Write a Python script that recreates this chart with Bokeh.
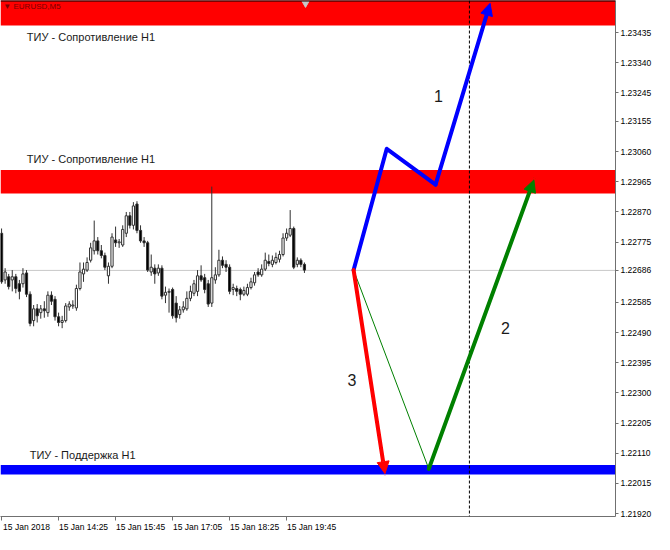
from bokeh.plotting import figure
from bokeh.models import (Range1d, FixedTicker, PrintfTickFormatter,
                          Span, Arrow, NormalHead, BoxAnnotation)
from bokeh.core.properties import value
from bokeh.embed import file_html
from bokeh.resources import INLINE

# ---------------- data ----------------
opens = [1.22803, 1.22656, 1.22666, 1.22656, 1.22666, 1.22644, 1.22644, 1.22678, 1.22611, 1.22528,
         1.22565, 1.22553, 1.22565, 1.22553, 1.22608, 1.22595, 1.22540, 1.22522, 1.22528, 1.22571,
         1.22574, 1.22568, 1.22629, 1.22675, 1.22687, 1.22718, 1.22748, 1.22779, 1.22748, 1.22733,
         1.22669, 1.22699, 1.22782, 1.22773, 1.22766, 1.22803, 1.22858, 1.22828, 1.22895, 1.22812,
         1.22779, 1.22773, 1.22681, 1.22693, 1.22678, 1.22693, 1.22608, 1.22617, 1.22626, 1.22583,
         1.22547, 1.22562, 1.22565, 1.22598, 1.22614, 1.22620, 1.22669, 1.22663, 1.22644, 1.22583,
         1.22656, 1.22672, 1.22718, 1.22705, 1.22696, 1.22626, 1.22629, 1.22626, 1.22611, 1.22611,
         1.22632, 1.22647, 1.22681, 1.22672, 1.22690, 1.22714, 1.22705, 1.22711, 1.22721, 1.22736,
         1.22788, 1.22797, 1.22818, 1.22705, 1.22718, 1.22705]
highs = [1.22818, 1.22693, 1.22675, 1.22687, 1.22675, 1.22656, 1.22693, 1.22687, 1.22620, 1.22577,
         1.22580, 1.22577, 1.22589, 1.22620, 1.22620, 1.22605, 1.22553, 1.22543, 1.22583, 1.22589,
         1.22592, 1.22641, 1.22711, 1.22711, 1.22727, 1.22773, 1.22843, 1.22791, 1.22766, 1.22742,
         1.22711, 1.22803, 1.22824, 1.22785, 1.22828, 1.22870, 1.22870, 1.22901, 1.22904, 1.22828,
         1.22791, 1.22779, 1.22736, 1.22705, 1.22705, 1.22702, 1.22635, 1.22629, 1.22632, 1.22605,
         1.22574, 1.22589, 1.22620, 1.22638, 1.22656, 1.22687, 1.22702, 1.22675, 1.22656, 1.22950,
         1.22696, 1.22751, 1.22730, 1.22718, 1.22705, 1.22644, 1.22638, 1.22632, 1.22635, 1.22644,
         1.22663, 1.22681, 1.22693, 1.22705, 1.22742, 1.22736, 1.22733, 1.22742, 1.22748, 1.22803,
         1.22818, 1.22876, 1.22824, 1.22727, 1.22724, 1.22711]
lows = [1.22644, 1.22644, 1.22626, 1.22620, 1.22614, 1.22595, 1.22632, 1.22602, 1.22510, 1.22510,
        1.22522, 1.22534, 1.22537, 1.22540, 1.22577, 1.22528, 1.22510, 1.22504, 1.22522, 1.22559,
        1.22565, 1.22559, 1.22623, 1.22650, 1.22681, 1.22711, 1.22736, 1.22736, 1.22724, 1.22687,
        1.22644, 1.22693, 1.22760, 1.22757, 1.22760, 1.22791, 1.22818, 1.22815, 1.22803, 1.22773,
        1.22760, 1.22681, 1.22669, 1.22644, 1.22669, 1.22595, 1.22583, 1.22553, 1.22534, 1.22522,
        1.22534, 1.22553, 1.22559, 1.22589, 1.22605, 1.22605, 1.22650, 1.22614, 1.22571, 1.22571,
        1.22644, 1.22666, 1.22693, 1.22681, 1.22611, 1.22608, 1.22605, 1.22592, 1.22605, 1.22605,
        1.22626, 1.22638, 1.22666, 1.22666, 1.22684, 1.22699, 1.22696, 1.22705, 1.22711, 1.22730,
        1.22779, 1.22791, 1.22690, 1.22696, 1.22696, 1.22678]
closes = [1.22650, 1.22681, 1.22635, 1.22666, 1.22629, 1.22620, 1.22675, 1.22611, 1.22519, 1.22565,
          1.22543, 1.22565, 1.22559, 1.22608, 1.22589, 1.22540, 1.22522, 1.22528, 1.22574, 1.22580,
          1.22577, 1.22629, 1.22681, 1.22690, 1.22711, 1.22757, 1.22779, 1.22748, 1.22733, 1.22696,
          1.22699, 1.22791, 1.22773, 1.22776, 1.22815, 1.22858, 1.22828, 1.22889, 1.22812, 1.22779,
          1.22773, 1.22687, 1.22696, 1.22675, 1.22693, 1.22605, 1.22617, 1.22620, 1.22543, 1.22537,
          1.22562, 1.22571, 1.22598, 1.22620, 1.22644, 1.22669, 1.22656, 1.22626, 1.22580, 1.22663,
          1.22672, 1.22718, 1.22702, 1.22696, 1.22620, 1.22632, 1.22620, 1.22611, 1.22623, 1.22632,
          1.22650, 1.22672, 1.22672, 1.22690, 1.22718, 1.22708, 1.22718, 1.22727, 1.22736, 1.22788,
          1.22803, 1.22818, 1.22696, 1.22718, 1.22705, 1.22687]
bar_index = list(range(len(closes)))

time_tick_index = [0, 16, 32, 48, 64, 80]
time_tick_labels = ["15 Jan 2018", "15 Jan 14:25", "15 Jan 15:45",
                    "15 Jan 17:05", "15 Jan 18:25", "15 Jan 19:45"]

price_ticks = [1.23435, 1.23340, 1.23245, 1.23155, 1.23060, 1.22965, 1.22870, 1.22775,
               1.22585, 1.22490, 1.22395, 1.22300, 1.22205, 1.22110, 1.22015, 1.21920]
current_price = 1.22686

resistance_upper = [1.23457, 1.23560]
resistance_lower = [1.22928, 1.23002]
support_level = [1.22043, 1.22073]
vertical_marker_index = 131.3

level_labels = ["ТИУ - Сопротивление H1", "ТИУ - Сопротивление H1", "ТИУ - Поддержка H1"]
level_label_x = [7.1, 7.1, 7.9]
level_label_y = [1.23420, 1.23038, 1.22104]

scenario1_x = [98.8, 108.1, 121.8, 137.1]
scenario1_y = [1.22687, 1.23069, 1.22956, 1.23527]
scenario2_x = [98.8, 119.9, 149.4]
scenario2_y = [1.22687, 1.22061, 1.22971]
scenario3_x = [98.8, 107.6]
scenario3_y = [1.22687, 1.22046]

scenario_names = ["1", "2", "3"]
scenario_name_x = [122.6, 141.4, 98.3]
scenario_name_y = [1.23234, 1.22504, 1.22342]

symbol_title = "\u25bc EURUSD,M5"

# ---------------- figure ----------------
FONT = "Liberation Sans"
W, H = 654, 534
p = figure(width=W, height=H, output_backend="svg", toolbar_location=None,
           x_range=Range1d(-0.3, 172.3), y_range=Range1d(1.21911, 1.23536),
           y_axis_location="right", min_border_left=0, min_border_top=0,
           min_border_right=0, min_border_bottom=0)
p.grid.visible = False
p.outline_line_color = None
p.background_fill_color = "white"
p.border_fill_color = "white"

# bands
for lo, hi, col in [(resistance_upper[0], resistance_upper[1], "#ff0000"),
                    (resistance_lower[0], resistance_lower[1], "#ff0000"),
                    (support_level[0], support_level[1], "#0000ff")]:
    p.add_layout(BoxAnnotation(bottom=lo, top=hi, fill_color=col, fill_alpha=1,
                               line_color=None, level="underlay"))

# current price line
p.add_layout(Span(location=current_price, dimension="width", line_color="#c8c8c8",
                  line_width=1, level="underlay"))

# candles
body_top = [max(o, c) for o, c in zip(opens, closes)]
body_bot = [min(o, c) for o, c in zip(opens, closes)]
body_fill = ["white" if c >= o else "black" for o, c in zip(opens, closes)]
p.segment(x0=bar_index, y0=lows, x1=bar_index, y1=highs, line_color="#303030", line_width=1)
p.vbar(x=bar_index, top=body_top, bottom=body_bot, width=0.62,
       fill_color=body_fill, line_color="#303030", line_width=1)

# top border and dashed vertical line
p.add_layout(Span(location=1.23536, dimension="width", line_color="#000000", line_width=2))
p.add_layout(Span(location=vertical_marker_index, dimension="height", line_color="#000000",
                  line_width=1, line_dash="3 2"))

# shift marker
p.scatter(x=[85.3], y=[1.23527], marker="inverted_triangle", size=7,
          fill_color="#c8c8c8", line_color="#c8c8c8")

# symbol title
p.text(x=[0.5], y=[1.23516], text=[symbol_title], text_font=value(FONT),
       text_font_size="8px", text_color="#7a0000", text_baseline="middle", text_align="left")

# level labels
p.text(x=level_label_x, y=level_label_y, text=level_labels, text_font=value(FONT),
       text_font_size="11px", text_color="#1a1a1a", text_baseline="middle", text_align="left")

# scenarios
p.line(x=scenario1_x[:3], y=scenario1_y[:3], line_color="#0000ff", line_width=4,
       line_join="round", line_cap="round")
p.add_layout(Arrow(end=NormalHead(size=12, fill_color="#0000ff", line_color="#0000ff"),
                   x_start=scenario1_x[2], y_start=scenario1_y[2],
                   x_end=scenario1_x[3], y_end=scenario1_y[3],
                   line_color="#0000ff", line_width=4, line_cap="round"))

p.line(x=scenario2_x[:2], y=scenario2_y[:2], line_color="#008000", line_width=1)
p.add_layout(Arrow(end=NormalHead(size=12, fill_color="#008000", line_color="#008000"),
                   x_start=scenario2_x[1], y_start=scenario2_y[1],
                   x_end=scenario2_x[2], y_end=scenario2_y[2],
                   line_color="#008000", line_width=4, line_cap="round"))

p.add_layout(Arrow(end=NormalHead(size=12, fill_color="#ff0000", line_color="#ff0000"),
                   x_start=scenario3_x[0], y_start=scenario3_y[0],
                   x_end=scenario3_x[1], y_end=scenario3_y[1],
                   line_color="#ff0000", line_width=4, line_cap="round"))

p.text(x=scenario_name_x, y=scenario_name_y, text=scenario_names, text_font=value(FONT),
       text_font_size="16px", text_color="#1a1a1a", text_baseline="middle", text_align="center")

# right price axis (current price included as a label)
ya = p.yaxis[0]
ya.ticker = FixedTicker(ticks=sorted(price_ticks + [current_price]))
ya.formatter = PrintfTickFormatter(format="%.5f")
ya.axis_line_color = "#707070"
ya.major_tick_line_color = "#707070"
ya.major_tick_in = 0
ya.major_tick_out = 3
ya.minor_tick_line_color = None
ya.major_label_standoff = 2
ya.axis_label_standoff = 0
ya.major_label_text_font = FONT
ya.major_label_text_font_size = "8.5px"
ya.major_label_text_color = "#000000"

# bottom time axis: labels to the right of the tick marks (tick marks drawn as minor ticks)
label_ticks = [t + 7 for t in time_tick_index]
xa = p.xaxis[0]
xa.ticker = FixedTicker(ticks=label_ticks, minor_ticks=time_tick_index)
xa.major_label_overrides = {t: s for t, s in zip(label_ticks, time_tick_labels)}
xa.axis_line_color = "#707070"
xa.major_tick_line_color = None
xa.major_tick_in = 0
xa.major_tick_out = 4
xa.minor_tick_line_color = "#707070"
xa.minor_tick_in = 0
xa.minor_tick_out = 4
xa.major_label_standoff = 1
xa.axis_label_standoff = 0
xa.major_label_text_font = FONT
xa.major_label_text_font_size = "8.5px"
xa.major_label_text_color = "#000000"

open("out.html", "w").write(file_html(p, INLINE))
